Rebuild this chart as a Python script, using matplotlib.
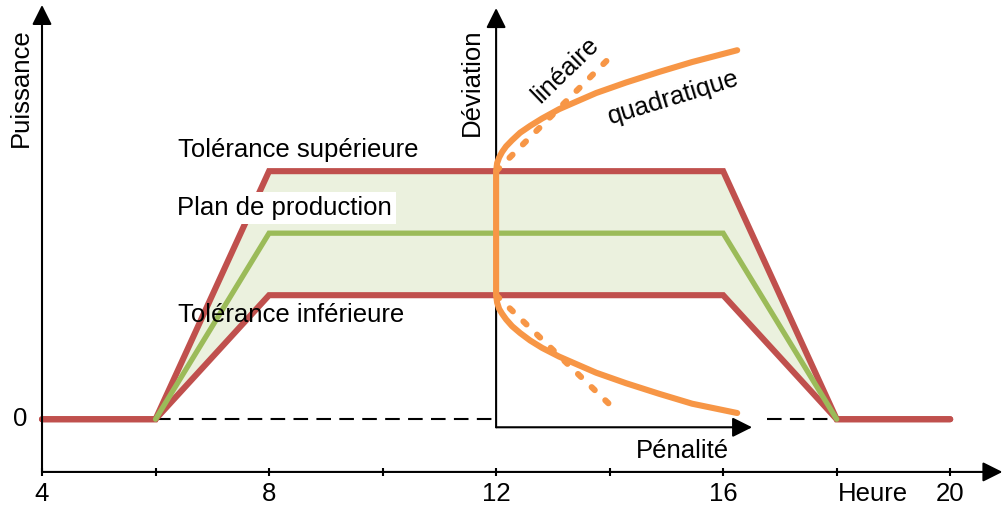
import matplotlib
matplotlib.use("Agg")
import matplotlib.pyplot as plt

plt.rcParams["font.family"] = ["Liberation Sans", "DejaVu Sans"]

# Schedule (hours) and power levels of the three profiles
hours = [4, 6, 8, 16, 18, 20]
tol_sup = [0, 0, 4, 4, 0, 0]
plan = [0, 0, 3, 3, 0, 0]
tol_inf = [0, 0, 2, 2, 0, 0]

# Penalty inset: penalty offset (hours) vs deviation (power units)
quad_pen = [0, 0.018, 0.053, 0.106, 0.176, 0.282, 0.423, 0.599, 0.811,
            1.110, 1.410, 1.762, 2.291, 2.872, 3.454, 4.247]
quad_up_dev = [4.0, 4.13, 4.22, 4.31, 4.40, 4.50, 4.62, 4.73, 4.85,
               5.0, 5.12, 5.26, 5.43, 5.60, 5.76, 5.95]
quad_lo_dev = [2.0, 1.88, 1.78, 1.70, 1.61, 1.50, 1.39, 1.27, 1.15,
               1.01, 0.89, 0.75, 0.58, 0.41, 0.25, 0.10]
lin_pen = [0, 2.10]
lin_up_dev = [4.0, 5.92]
lin_lo_dev = [2.0, 0.15]

pen_origin = 12
x_ticks = [4, 6, 8, 10, 12, 14, 16, 18, 20]
x_labels = {4: "4", 8: "8", 12: "12", 16: "16", 18.64: "Heure", 20: "20"}

RED = "#c0504d"
GREEN = "#9bbb59"
ORANGE = "#f79646"
FILL = "#ebf1de"

fig = plt.figure(figsize=(10.03, 5.11), dpi=100)
ax = fig.add_axes([0, 0, 1, 1])
ax.set_xlim(3.26, 20.93)
ax.set_ylim(-1.48, 6.76)
ax.axis("off")

# tolerance band
ax.fill_between(hours, tol_inf, tol_sup, color=FILL, lw=0, zorder=1)

# zero line, interrupted by the penalty inset
ax.plot([6, 12], [0, 0], color="black", lw=1.5, ls=(0, (7, 4)), zorder=2)
ax.plot([16.78, 18], [0, 0], color="black", lw=1.5, ls=(0, (7, 4)), zorder=2)

ax.plot(hours, tol_sup, color=RED, lw=4.4, solid_capstyle="round",
        solid_joinstyle="miter", zorder=3)
ax.plot(hours, tol_inf, color=RED, lw=4.4, solid_capstyle="round",
        solid_joinstyle="miter", zorder=3)
ax.plot(hours[1:5], plan[1:5], color=GREEN, lw=3.8, solid_capstyle="round",
        solid_joinstyle="miter", zorder=3)


def arrow(x0, y0, x1, y1):
    ax.annotate("", xy=(x1, y1), xytext=(x0, y0),
                arrowprops=dict(arrowstyle="-|>,head_length=1.0,head_width=0.5",
                                lw=1.5, color="black", mutation_scale=12,
                                shrinkA=0, shrinkB=0), zorder=4)


# main axes
axis_y = -0.85
arrow(4, axis_y, 20.92, axis_y)
arrow(4, axis_y, 4, 6.68)
ax.vlines(x_ticks, axis_y - 0.07, axis_y + 0.07, color="black", lw=1.5, zorder=4)
for x, s in x_labels.items():
    ax.text(x, -1.21, s, ha="center", va="center", fontsize=18.5)
ax.text(3.61, 0, "0", ha="center", va="center", fontsize=18.5)
ax.text(3.63, 5.34, "Puissance", rotation=90, ha="center", va="center", fontsize=18.5)

# penalty inset axes
pen_y = -0.13
arrow(pen_origin, pen_y, 16.51, pen_y)
arrow(pen_origin, pen_y, pen_origin, 6.63)
ax.text(11.58, 5.44, "Déviation", rotation=90, ha="center", va="center", fontsize=18.5)
ax.text(15.28, -0.63, "Pénalité", ha="center", va="baseline", fontsize=18.5)

# quadratic penalty curve (lower branch, dead band, upper branch)
qx = [pen_origin + p for p in quad_pen[::-1]] + [pen_origin + p for p in quad_pen]
qy = quad_lo_dev[::-1] + quad_up_dev
ax.plot(qx, qy, color=ORANGE, lw=4.4, solid_capstyle="round",
        solid_joinstyle="round", zorder=6)

# linear penalty
for dev in (lin_up_dev, lin_lo_dev):
    ax.plot([pen_origin + p for p in lin_pen], dev, color=ORANGE, lw=4.4,
            ls=(0, (0.7, 2.4)), dash_capstyle="round", zorder=5)

ax.text(13.22, 5.63, "linéaire", rotation=44, ha="center", va="center", fontsize=18.5)
ax.text(15.12, 5.19, "quadratique", rotation=17, ha="center", va="center", fontsize=18.5)

# profile labels
ax.text(6.40, 4.23, "Tolérance supérieure", ha="left", va="baseline", fontsize=18.5)
ax.text(6.38, 3.29, "Plan de production", ha="left", va="baseline", fontsize=18.5,
        bbox=dict(facecolor="white", edgecolor="none", pad=3), zorder=7)
ax.text(6.40, 1.57, "Tolérance inférieure", ha="left", va="baseline", fontsize=18.5)

fig.savefig("out.png", dpi=100, facecolor="white")
